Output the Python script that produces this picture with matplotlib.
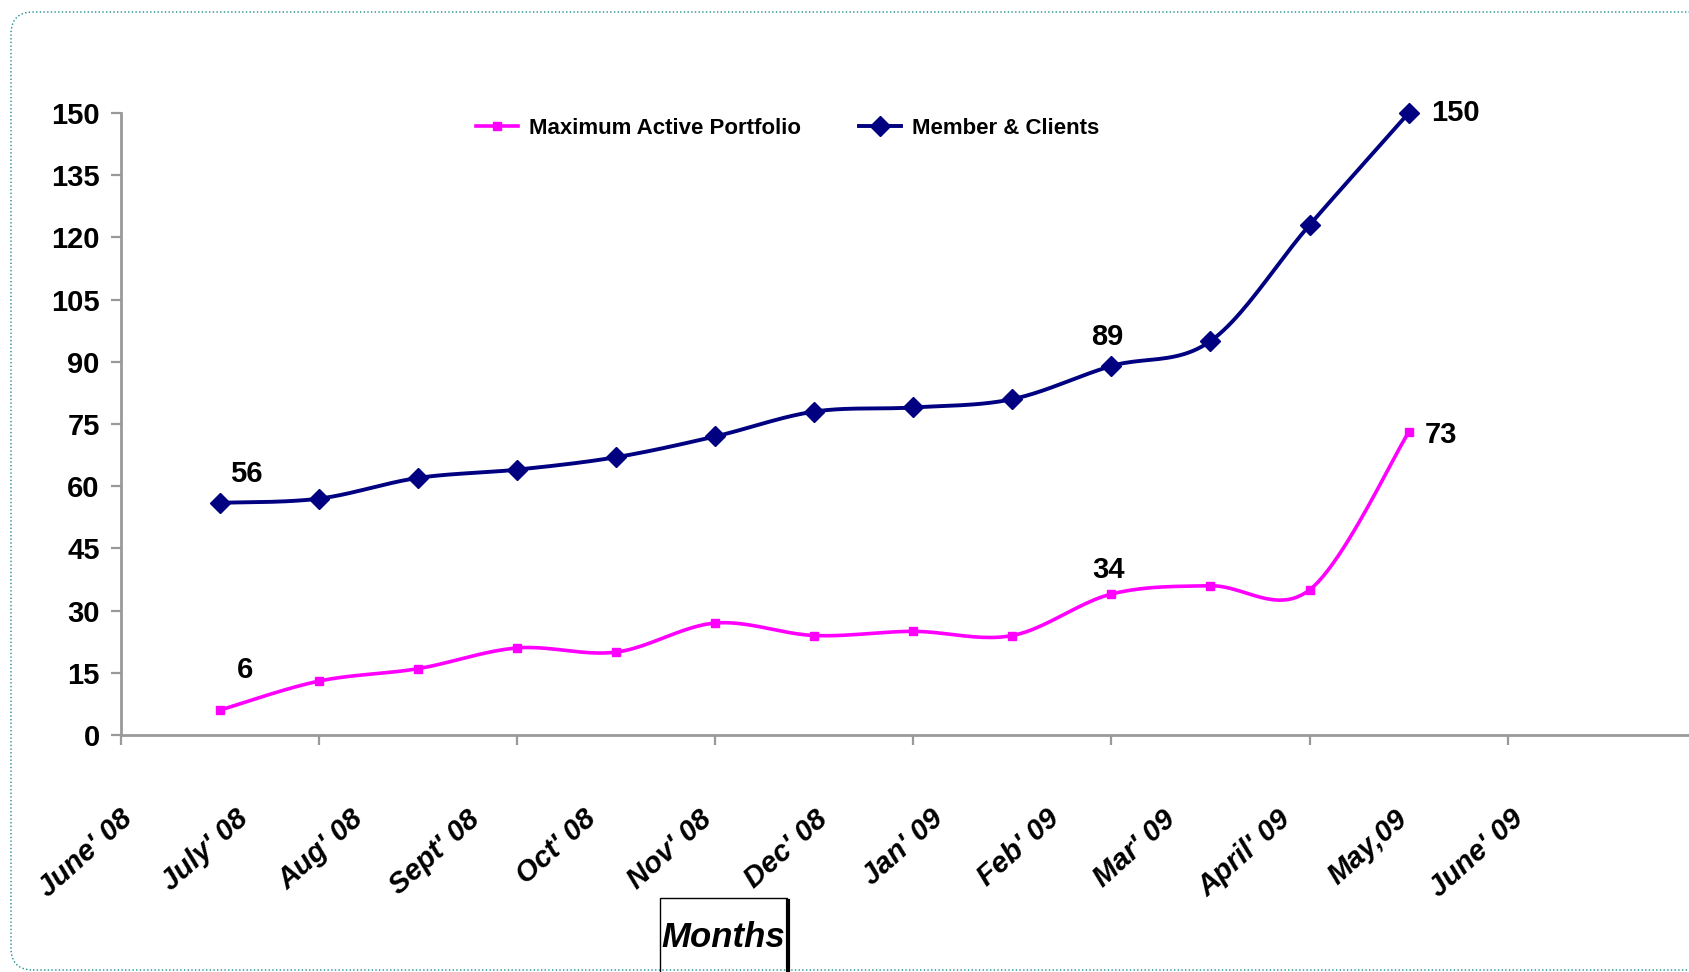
import matplotlib.pyplot as plt
import matplotlib.patches as mpatches
import matplotlib.transforms as mtransforms
from matplotlib.lines import Line2D
import numpy as np

plt.rcParams["font.family"] = ["Liberation Sans", "DejaVu Sans"]

# Monthly values
month_labels = ["June' 08", "July' 08", "Aug' 08", "Sept' 08", "Oct' 08", "Nov' 08",
                "Dec' 08", "Jan' 09", "Feb' 09", "Mar' 09", "April' 09", "May,09", "June' 09"]
members = [56, 57, 62, 64, 67, 72, 78, 79, 81, 89, 95, 123, 150]
portfolio = [6, 13, 16, 21, 20, 27, 24, 25, 24, 34, 36, 35, 73]
labelled = [0, 9, 12]  # points that carry a value label

NAVY = "#000080"
MAGENTA = "#FF00FF"
GREY = "#999999"


def smooth(xs, ys, steps=24):
    """Catmull-Rom curve through the points (Excel style smoothed line)."""
    px = np.concatenate([[xs[0]], xs, [xs[-1]]]).astype(float)
    py = np.concatenate([[ys[0]], ys, [ys[-1]]]).astype(float)
    out_x, out_y = [], []
    t = np.linspace(0, 1, steps)
    for i in range(1, len(px) - 2):
        for p, out in ((px, out_x), (py, out_y)):
            p0, p1, p2, p3 = p[i - 1], p[i], p[i + 1], p[i + 2]
            seg = 0.5 * ((2 * p1) + (-p0 + p2) * t
                         + (2 * p0 - 5 * p1 + 4 * p2 - p3) * t ** 2
                         + (-p0 + 3 * p1 - 3 * p2 + p3) * t ** 3)
            out.extend(seg)
    return np.array(out_x), np.array(out_y)


fig = plt.figure(figsize=(16.9, 9.72), dpi=100)
ax = fig.add_axes([0.0714, 0.2438, 0.9286, 0.6399])

x = np.arange(len(members))

sx, sy = smooth(x, members)
ax.plot(sx, sy, color=NAVY, lw=2.8, solid_capstyle="round", clip_on=False)
ax.plot(x, members, ls="none", marker="D", ms=10, color=NAVY, clip_on=False)

sx, sy = smooth(x, portfolio)
ax.plot(sx, sy, color=MAGENTA, lw=2.6, solid_capstyle="round", clip_on=False)
ax.plot(x, portfolio, ls="none", marker="s", ms=6, color=MAGENTA, clip_on=False)

# value labels
lab_font = dict(fontsize=21, fontweight="bold", ha="center", va="center")
offsets_m = {0: (19, 21), 9: (-3, 21), 12: (34, 0)}
offsets_p = {0: (18, 29), 9: (-2, 17), 12: (23, -2)}
for i in labelled:
    ax.annotate(str(members[i]), (x[i], members[i]), xytext=offsets_m[i],
                textcoords="offset points", **lab_font)
    ax.annotate(str(portfolio[i]), (x[i], portfolio[i]), xytext=offsets_p[i],
                textcoords="offset points", **lab_font)

# axes styling
ax.set_xlim(-1, 14.84)
ax.set_ylim(0, 150)
ax.set_yticks(np.arange(0, 151, 15))
ax.set_xticks(np.arange(-1, 14, 2))
ax.set_xticklabels([])
for side in ("top", "right"):
    ax.spines[side].set_visible(False)
for side in ("left", "bottom"):
    ax.spines[side].set_color(GREY)
    ax.spines[side].set_linewidth(2)
ax.tick_params(axis="both", colors=GREY, width=1.6, length=7, direction="out")
ax.tick_params(axis="y", labelcolor="black", labelsize=21, pad=8)
for t in ax.get_yticklabels():
    t.set_fontweight("bold")

# month labels along the bottom
trans = mtransforms.blended_transform_factory(ax.transData, ax.transAxes)
label_pos = -0.83 + 1.17 * np.arange(len(month_labels))
for pos, name in zip(label_pos, month_labels):
    ax.text(pos, -0.112, name, transform=trans, rotation=42, ha="right", va="top",
            fontsize=21, fontweight="bold", fontstyle="italic")

# legend
handles = [
    Line2D([], [], color=MAGENTA, lw=2.6, marker="s", ms=6),
    Line2D([], [], color=NAVY, lw=2.8, marker="D", ms=10),
]
fig.legend(handles, ["Maximum Active Portfolio", "Member & Clients"], ncol=2,
           loc="center", bbox_to_anchor=(0.466, 0.868), frameon=False,
           prop=dict(size=16, weight="bold"), handlelength=1.9,
           handletextpad=0.5, columnspacing=2.6)

# axis title box
fig.patches.append(mpatches.Rectangle((0.3905, -0.01), 0.075, 0.086, transform=fig.transFigure,
                                      facecolor="white", edgecolor="black", lw=1))
fig.lines.append(Line2D([0.4663, 0.4663], [-0.01, 0.073], transform=fig.transFigure,
                        color="black", lw=3))
fig.text(0.428, 0.035, "Months", ha="center", va="center", fontsize=25,
         fontweight="bold", fontstyle="italic")

# dotted frame around the chart
frame = mpatches.FancyBboxPatch((11, 2), 1720, 958, boxstyle="round,pad=0,rounding_size=22",
                                transform=mtransforms.IdentityTransform(), fill=False,
                                edgecolor="#1a8c8c", lw=1, ls=":")
fig.patches.append(frame)

fig.savefig("out.png", dpi=100)
